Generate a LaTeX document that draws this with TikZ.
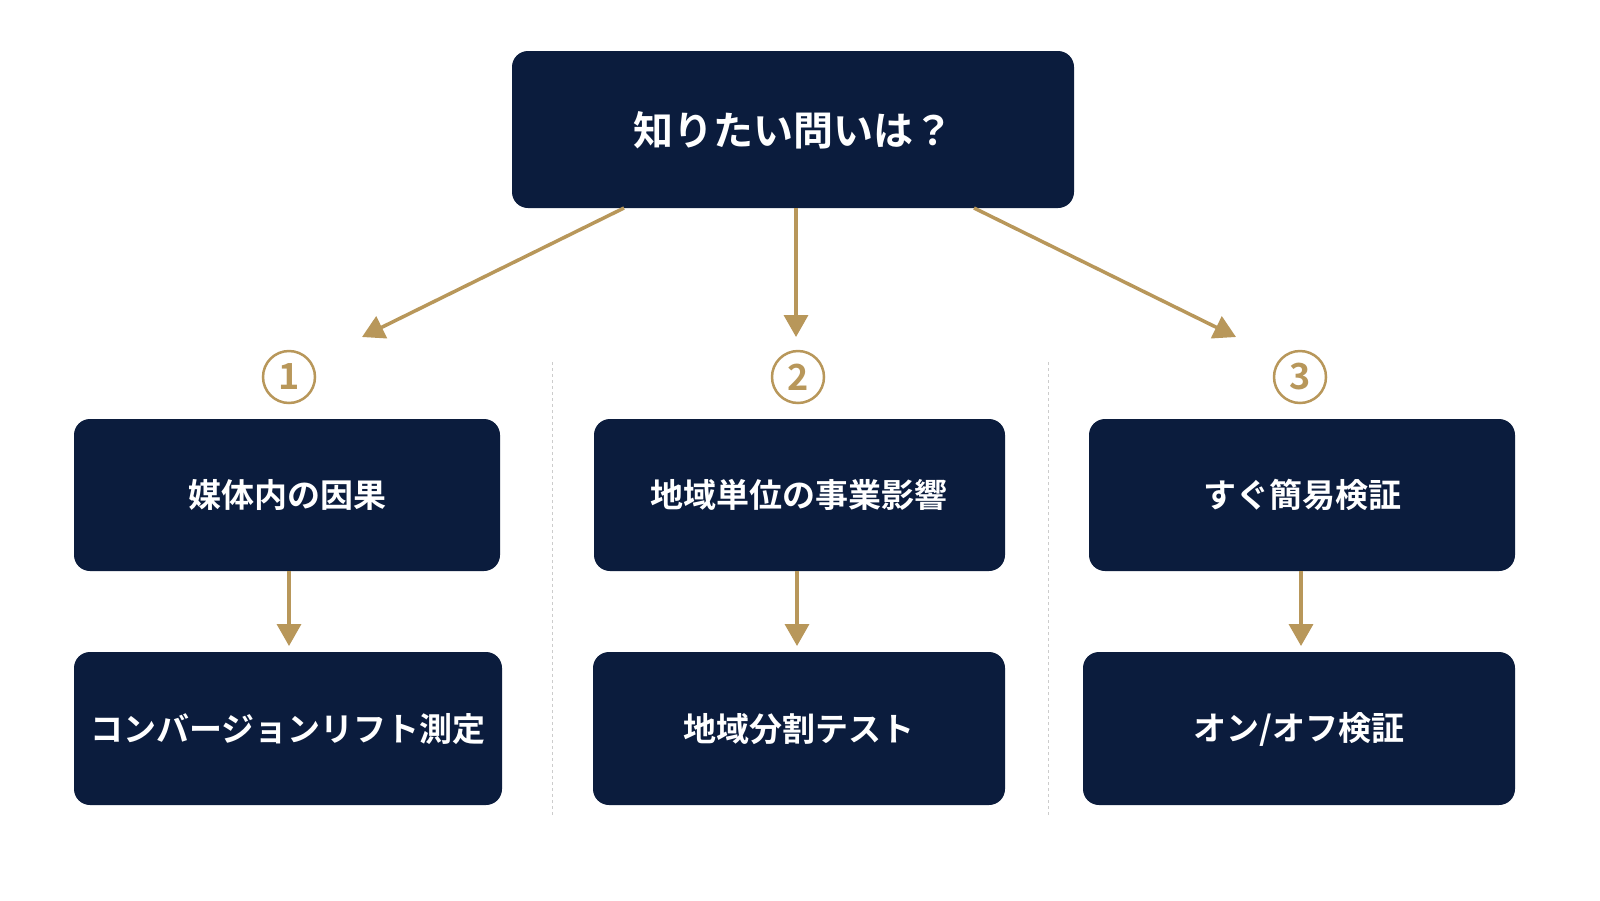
\documentclass[tikz,border=0pt]{standalone}
\usepackage{fontspec}
\newfontfamily\jp{Noto Sans CJK JP Bold}
\usetikzlibrary{arrows.meta}
\definecolor{navy}{HTML}{0B1C3D}
\definecolor{gold}{HTML}{B8975A}
\begin{document}
\begin{tikzpicture}[x=1pt,y=-1pt,
  box/.style={fill=navy,rounded corners=16pt,draw=none,text=white,font=\jp\fontsize{33}{36}\selectfont},
  arr/.style={draw=gold,line width=3.5pt,-{Triangle[length=22pt,width=24pt]}},
  num/.style={circle,draw=gold,line width=2.5pt,minimum size=52pt,inner sep=0pt,text=gold,font=\jp\fontsize{36}{36}\selectfont},
  sep/.style={draw=gray!40,dashed,line width=1pt}]
\useasboundingbox (0,0) rectangle (1600,900);
\fill[white] (0,0) rectangle (1600,900);
\path[box] (512,51) rectangle (1074,208);
\node[text=white,font=\jp\fontsize{40}{44}\selectfont] (top) at (793,130) {知りたい問いは？};
\path[box] (74,419) rectangle (500,571); \node[box,fill=none] (a1) at (287,495) {媒体内の因果};
\path[box] (594,419) rectangle (1005,571); \node[box,fill=none] (b1) at (799,495) {地域単位の事業影響};
\path[box] (1089,419) rectangle (1515,571); \node[box,fill=none] (c1) at (1302,495) {すぐ簡易検証};
\path[box] (74,652) rectangle (502,805); \node[box,fill=none] (a2) at (288,729) {コンバージョンリフト測定};
\path[box] (593,652) rectangle (1005,805); \node[box,fill=none] (b2) at (799,729) {地域分割テスト};
\path[box] (1083,652) rectangle (1515,805); \node[box,fill=none] (c2) at (1299,729) {オン/オフ検証};
\node[num] (n1) at (289,377) {1};
\node[num] (n2) at (798,377) {2};
\node[num] (n3) at (1300,377) {3};
\coordinate (s1) at (624,208); \coordinate (e1) at (362,337);
\coordinate (s2) at (796,208); \coordinate (e2) at (796,337);
\coordinate (s3) at (974,208); \coordinate (e3) at (1236,337);
\draw[arr] (s1) -- (e1);
\draw[arr] (s2) -- (e2);
\draw[arr] (s3) -- (e3);
\coordinate (d1a) at (289,571); \coordinate (d1b) at (289,646);
\coordinate (d2a) at (797,571); \coordinate (d2b) at (797,646);
\coordinate (d3a) at (1301,571); \coordinate (d3b) at (1301,646);
\draw[arr] (d1a) -- (d1b);
\draw[arr] (d2a) -- (d2b);
\draw[arr] (d3a) -- (d3b);
\coordinate (l1a) at (552,362); \coordinate (l1b) at (552,816);
\coordinate (l2a) at (1048,362); \coordinate (l2b) at (1048,816);
\draw[sep] (l1a) -- (l1b);
\draw[sep] (l2a) -- (l2b);
\end{tikzpicture}
\end{document}
